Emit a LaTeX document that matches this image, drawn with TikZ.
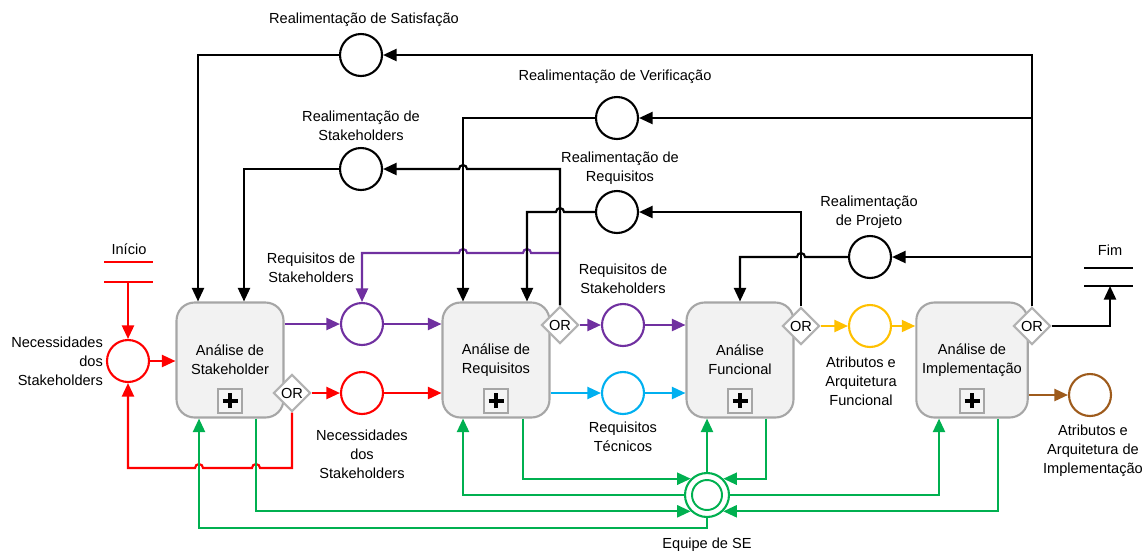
\documentclass[tikz,border=0pt]{standalone}
\usepackage{fontspec}
\setmainfont{Liberation Sans}
\usetikzlibrary{arrows.meta,calc,positioning,shapes.geometric}
\definecolor{reqpurple}{RGB}{112,48,160}
\definecolor{teccyan}{RGB}{0,176,240}
\definecolor{arqyellow}{RGB}{255,192,0}
\definecolor{implbrown}{RGB}{158,91,28}
\definecolor{segreen}{RGB}{0,176,80}
\def\hop(#1){-- ($(#1)+(4,0)$) arc (0:180:4)}
\tikzset{
	every node/.style={font=\fontsize{8.3}{10.8}\selectfont},
	proc/.style={draw=gray!70, fill=gray!10, line width=1.2pt, rounded corners=0.36cm,
		minimum width=2.14cm, minimum height=2.3cm, align=center},
	plusbox/.style={draw=gray!70, fill=gray!8, line width=1pt, minimum size=0.48cm, inner sep=0pt,
		path picture={\draw[black, line width=2.2pt]
			([xshift=-0.15cm]path picture bounding box.center) -- ([xshift=0.15cm]path picture bounding box.center)
			([yshift=-0.15cm]path picture bounding box.center) -- ([yshift=0.15cm]path picture bounding box.center);}},
	orgate/.style={diamond, aspect=1, draw=gray!60, fill=white, line width=1.2pt,
		minimum size=0.74cm, inner sep=0pt},
	sig/.style={circle, draw, line width=1.2pt, fill=white, minimum size=0.84cm, inner sep=0pt},
	equipe/.style={circle, draw=segreen, line width=1.2pt, fill=white, minimum size=0.88cm, inner sep=0pt,
		path picture={\draw[segreen, line width=1.1pt] (path picture bounding box.center) circle (0.3cm);}},
	lbl/.style={align=center, inner sep=1pt},
	flow/.style={line width=1.2pt, -{Triangle[length=0.27cm,width=0.24cm]}}
}
\begin{document}
\begin{tikzpicture}[x=0.02cm, y=0.02cm]
	%%%%% START %%%%%
	\useasboundingbox (0,0) rectangle (1145,-552);
	
	% processos
	\node[proc] (sh) at (230,-360) {Análise de\\Stakeholder};
	\node[proc] (req) at (496,-360) {Análise de\\Requisitos};
	\node[proc] (fun) at (740,-360) {Análise\\Funcional};
	\node[proc] (imp) at (972,-360) {Análise de\\Implementação};
	\foreach \p in {sh,req,fun,imp}
		\node[plusbox, above=0.1cm of \p.south] (\p plus) {};
	
	\node[orgate] (or1) at (292,-393) {OR};
	\node[orgate] (or2) at (560,-325) {OR};
	\node[orgate] (or3) at (801,-326) {OR};
	\node[orgate] (or4) at (1032,-326) {OR};
	
	% fluxos
	\node[sig, draw=red] (nec0) at (128,-361) {};
	\node[sig, draw=reqpurple] (sreq1) at (362,-324) {};
	\node[sig, draw=red] (nec1) at (362,-393) {};
	\node[sig, draw=reqpurple] (sreq2) at (623,-325) {};
	\node[sig, draw=teccyan] (tec) at (623,-393) {};
	\node[sig, draw=arqyellow] (arqf) at (870,-326) {};
	\node[sig, draw=implbrown] (arqi) at (1090,-395) {};
	\node[sig] (fbsat) at (361,-55) {};
	\node[sig] (fbver) at (617,-118) {};
	\node[sig] (fbsh) at (361,-169) {};
	\node[sig] (fbreq) at (617,-212) {};
	\node[sig] (fbproj) at (870,-257) {};
	\node[equipe] (se) at (707,-495) {};
	
	% textos
	\node[lbl] (tini) at (129,-249) {Início};
	\node[lbl] (tfim) at (1110,-250) {Fim};
	\node[lbl] (tsat) at (364,-20) {Realimentação de Satisfação};
	\node[lbl] (tver) at (615,-77) {Realimentação de Verificação};
	\node[lbl] (tfbsh) at (361,-126) {Realimentação de\\Stakeholders};
	\node[lbl] (tfbreq) at (620,-168) {Realimentação de\\Requisitos};
	\node[lbl] (tproj) at (869,-212) {Realimentação\\de Projeto};
	\node[lbl] (tsreq1) at (311,-268) {Requisitos de\\Stakeholders};
	\node[lbl] (tsreq2) at (623,-279) {Requisitos de\\Stakeholders};
	\node[lbl, anchor=east, align=right] (tnec0) at (105,-361) {Necessidades\\dos\\Stakeholders};
	\node[lbl] (tnec1) at (362,-454) {Necessidades\\dos\\Stakeholders};
	\node[lbl] (ttec) at (623,-437) {Requisitos\\Técnicos};
	\node[lbl] (tarqi) at (1093,-451) {Atributos e\\Arquitetura de\\Implementação};
	\node[lbl] (tarqf) at (861,-381) {Atributos e\\Arquitetura\\Funcional};
	\node[lbl] (tse) at (707,-545) {Equipe de SE};
	
	% pontos
	\coordinate (ini) at (128,-282);
	\coordinate (fim) at (1110,-286);
	\coordinate (pb) at (560,-253);
	\coordinate (necb) at (128,-468);
	\coordinate (shA) at ([xshift=-0.64cm]sh.north);
	\coordinate (shB) at ([xshift=0.28cm]sh.north);
	\coordinate (reqA) at ([xshift=-0.66cm]req.north);
	\coordinate (reqB) at ([xshift=0.62cm]req.north);
	\coordinate (shG1) at ([xshift=-0.62cm]sh.south);
	\coordinate (shG2) at ([xshift=0.52cm]sh.south);
	\coordinate (reqG1) at ([xshift=-0.66cm]req.south);
	\coordinate (reqG2) at ([xshift=0.54cm]req.south);
	\coordinate (funG2) at ([xshift=0.52cm]fun.south);
	\coordinate (impG1) at ([xshift=-0.66cm]imp.south);
	\coordinate (impG2) at ([xshift=0.52cm]imp.south);
	
	% inicio e fim
	\draw[red, line width=1.3pt] (104,-262) -- (153,-262) (104,-282) -- (153,-282);
	\draw[line width=1.3pt] (1084,-268) -- (1133,-268) (1084,-286) -- (1133,-286);
	
	\draw[flow, red] (ini) -- (nec0.north);
	\draw[flow, red] (nec0.east) -- (nec0 -| sh.west);
	\draw[flow, red] (or1.east) -- (nec1.west);
	\draw[flow, red] (nec1.east) -- (nec1 -| req.west);
	\draw[flow, red] (or1.south) -- (or1 |- necb) \hop(shG2 |- necb) \hop(shG1 |- necb) -- (necb) -- (nec0.south);
	
	\draw[flow, reqpurple] (sreq1 -| sh.east) -- (sreq1.west);
	\draw[flow, reqpurple] (sreq1.east) -- (sreq1 -| req.west);
	\draw[flow, reqpurple] (or2.east) -- (sreq2.west);
	\draw[flow, reqpurple] (sreq2.east) -- (sreq2 -| fun.west);
	\draw[flow, reqpurple] (pb) \hop(reqB |- pb) \hop(reqA |- pb) -| (sreq1.north);
	
	\draw[flow, teccyan] (tec -| req.east) -- (tec.west);
	\draw[flow, teccyan] (tec.east) -- (tec -| fun.west);
	\draw[flow, arqyellow] (or3.east) -- (arqf.west);
	\draw[flow, arqyellow] (arqf.east) -- (arqf -| imp.west);
	\draw[flow, implbrown] (arqi -| imp.east) -- (arqi.west);
	
	% realimentacoes
	\draw[flow] (or4.east) -| (fim);
	\draw[flow] (or4.north) |- (fbsat.east);
	\draw[flow] (fbsat.west) -| (shA);
	\draw[flow] (or4.north) |- (fbver.east);
	\draw[flow] (fbver.west) -| (reqA);
	\draw[flow] (or4.north) |- (fbproj.east);
	\draw[flow] (fbproj.west) \hop(or3 |- fbproj) -| (fun.north);
	\draw[flow] (or2.north) -- (or2 |- fbsh) \hop(reqA |- fbsh) -- (fbsh.east);
	\draw[flow] (fbsh.west) -| (shB);
	\draw[flow] (or3.north) |- (fbreq.east);
	\draw[flow] (fbreq.west) \hop(or2 |- fbreq) -| (reqB);
	
	% equipe de SE
	\draw[flow, segreen] (se.south) -- ++(0,-10) -| (shG1);
	\draw[flow, segreen] (shG2) |- (se.225);
	\draw[flow, segreen] (se.west) -| (reqG1);
	\draw[flow, segreen] (reqG2) |- (se.135);
	\draw[flow, segreen] (se.north) -- (se.north |- fun.south);
	\draw[flow, segreen] (funG2) |- (se.45);
	\draw[flow, segreen] (se.east) -| (impG1);
	\draw[flow, segreen] (impG2) |- (se.315);
	
	%%%%% END %%%%%
\end{tikzpicture}
\end{document}
